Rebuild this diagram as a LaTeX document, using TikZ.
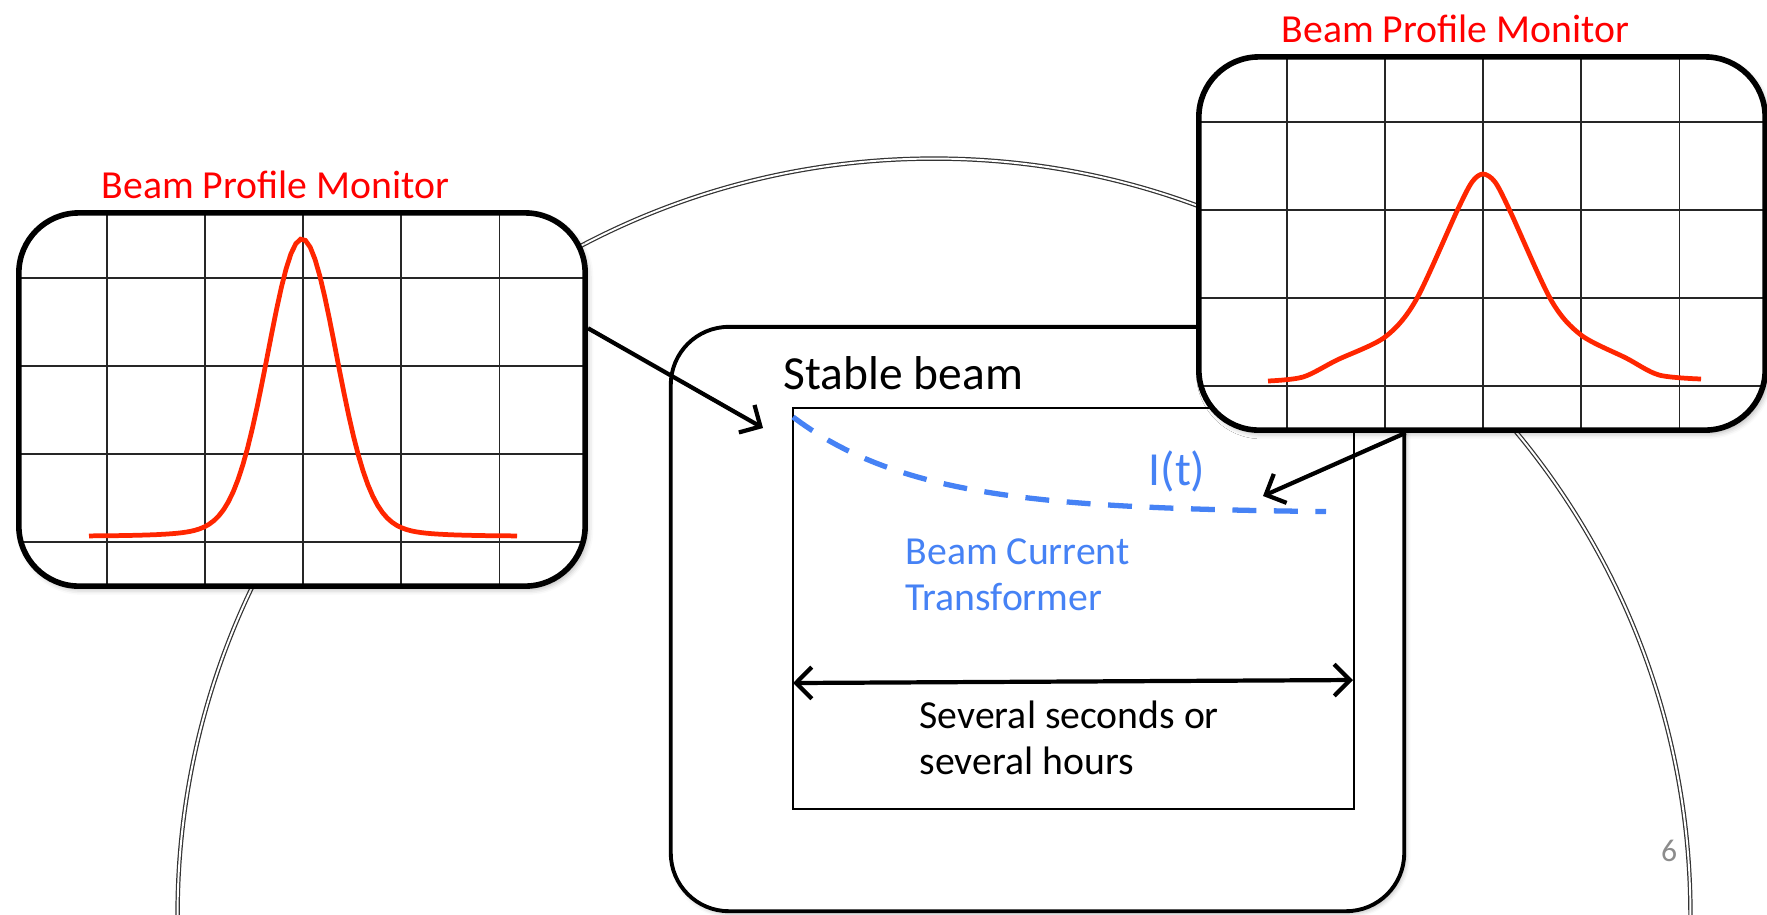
\documentclass[tikz,border=0pt]{standalone}
\usepackage{fontspec}
\setmainfont{Carlito}
\usepackage{tikz}
\usetikzlibrary{arrows.meta,shadows.blur}

\definecolor{bpmred}{RGB}{255,0,0}
\definecolor{curvered}{RGB}{255,38,0}
\definecolor{bctblue}{RGB}{70,130,245}
\definecolor{pagegray}{RGB}{140,140,140}

\tikzset{
  gridline/.style={line width=0.35pt, black!85},
  monitor/.style={draw, line width=1.6pt, rounded corners=0.6cm, fill=white,
    minimum width=5.66cm, minimum height=3.73cm, inner sep=0pt,
    blur shadow={shadow xshift=0.8pt, shadow yshift=-1pt, shadow blur radius=1.5pt, shadow opacity=30},
    path picture={
      \foreach \i in {0,...,4}
        \draw[gridline] ([xshift=0.88cm+\i*0.98cm]path picture bounding box.north west) -- ++(0cm,-4cm);
      \foreach \j in {0,...,3}
        \draw[gridline] ([yshift=-0.65cm-\j*0.88cm]path picture bounding box.north west) -- ++(6cm,0cm);
    }},
  beambox/.style={draw, line width=1.1pt, rounded corners=0.58cm, fill=white,
    minimum width=7.33cm, minimum height=5.84cm, inner sep=0pt,
    blur shadow={shadow xshift=0.6pt, shadow yshift=-0.8pt, shadow blur radius=1.2pt, shadow opacity=25}},
  window/.style={draw, line width=0.45pt, minimum width=5.61cm, minimum height=4.01cm, inner sep=0pt},
  ring/.style={double, double distance=0.55pt, line width=0.35pt, black!80},
  profile/.style={curvered, line width=1.35pt},
  bct/.style={bctblue, line width=1.5pt, dash pattern=on 6.8pt off 5pt},
  arr/.style={line width=1.2pt},
  bpmtitle/.style={anchor=base west, inner sep=0pt, text=bpmred, font=\fontsize{11.3}{13.5}\selectfont},
  note/.style={anchor=base west, inner sep=0pt, text width=4cm, font=\fontsize{11.3}{13.3}\selectfont,
    execute at begin node={\spaceskip=0pt\xspaceskip=0pt}}
}

\begin{document}
\begin{tikzpicture}[x=0.01cm, y=-0.01cm, >={Straight Barb[length=4.5pt,width=9pt]}]
  \useasboundingbox (0,0) rectangle (1767,914);
  % ring
  \draw[ring] (934,915) circle[radius=7.56cm];

  % stable beam
  \node[beambox] (stable) at (1037.5,619) {};
  \node[window] (win) at (1073.5,608.5) {};
  \node[anchor=base west, inner sep=0pt, font=\fontsize{13.5}{16}\selectfont] (stabletxt) at (783,389) {Stable beam};
  \draw[bct] plot[domain=793:1326, samples=60] (\x,{513-96*exp(-(\x-793)/127)});
  \node[inner sep=0pt, text=bctblue, font=\fontsize{13.5}{16}\selectfont] (itxt) at (1177,471) {I(t)};
  \node[note, text=bctblue] (bcttxt) at (905,564) {Beam Current\\Transformer};
  \coordinate (durl) at (793,683);
  \coordinate (durr) at (1353,680);
  \draw[arr, <->] (durl) -- (durr);
  \node[note] (durtxt) at (919,728) {Several seconds or\\several hours};
  \node[inner sep=0pt, text=pagegray, font=\fontsize{9}{11}\selectfont] (pagenum) at (1669,851) {6};

  % monitors
  \node[monitor] (lmon) at (302,399.5) {};
  \draw[profile] plot[domain=89:517, samples=90]
    (\x,{536-285*exp(-0.5*((\x-302)/34)^2)-12*exp(-0.5*((\x-302)/70)^2)});
  \node[bpmtitle] (ltitle) at (101,198) {Beam Profile Monitor};

  \node[monitor] (rmon) at (1482,243.5) {};
  \draw[profile] plot[smooth] coordinates {(1268,381) (1303,377) (1337,360) (1385,337) (1416,300)
    (1457,211) (1472,182) (1483,174) (1495,182) (1510,211) (1551,300) (1581,335) (1626,358)
    (1659,375) (1701,379)};
  \node[bpmtitle] (rtitle) at (1281,42) {Beam Profile Monitor};

  % arrows
  \coordinate (ltip) at (763,428);
  \coordinate (rtip) at (1263,496);
  \draw[arr, ->] (lmon.14) -- (ltip);
  \draw[arr, ->] (rmon.248) -- (rtip);
\end{tikzpicture}
\end{document}
